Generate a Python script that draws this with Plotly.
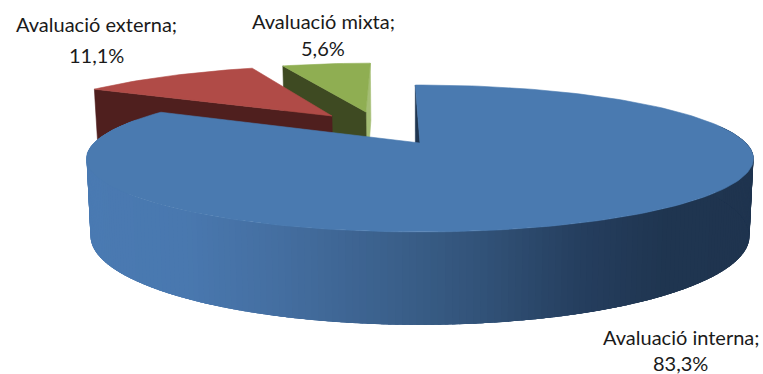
import math
import plotly.graph_objects as go

categories = ["Avaluació interna", "Avaluació externa", "Avaluació mixta"]
values = [83.3, 11.1, 5.6]
top_colors = ["#4a7ab0", "#b04b47", "#8fae52"]
wall_colors = ["#1f3550", "#4f1f1e", "#3e4a22"]
sliver_color = "#a4bd74"
explode = [(0.0, 0.0), (-0.294, 0.419), (-0.183, 0.487)]
radius_scale = [1.0, 1.025, 1.01]

label_lines = [
    [(681, 337), (680, 363)],
    [(96, 24), (96, 55)],
    [(323, 21), (323, 48)],
]
font_size = 20

CX, CY, RX, RY, P, H, Q = 420.0, 143.0, 326.0, 70.2, 0.211, 75.0, 0.012
START = -1.0

side_stops = [
    (88, (74, 122, 178)), (200, (73, 120, 175)), (300, (68, 110, 160)),
    (420, (58, 95, 138)), (500, (50, 83, 121)), (600, (37, 62, 94)),
    (680, (31, 53, 80)), (760, (31, 52, 79)),
]


def project(X, Y, Z=0.0):
    d = (1 + P * Y) * (1 + Q * Z)
    return CX + RX * X / d, CY - RY * Y / d + H * Z / d


def rim(theta, off, Z=0.0, scale=1.0):
    t = math.radians(theta)
    return project(scale * math.sin(t) + off[0], scale * math.cos(t) + off[1], Z)


def side_color(x):
    for (x0, c0), (x1, c1) in zip(side_stops, side_stops[1:]):
        if x <= x1:
            f = max(0.0, (x - x0) / (x1 - x0))
            return "rgb(%d,%d,%d)" % tuple(round(a + (b - a) * f) for a, b in zip(c0, c1))
    return "rgb(31,52,79)"


def poly(points, color, width=0.6):
    xs = [p[0] for p in points] + [points[0][0]]
    ys = [p[1] for p in points] + [points[0][1]]
    return go.Scatter(x=xs, y=ys, mode="lines", fill="toself", fillcolor=color,
                      line=dict(color=color, width=width), hoverinfo="skip", showlegend=False)


def top_face(a0, a1, off, scale):
    n = max(4, int((a1 - a0) / 1.5))
    pts = [project(off[0], off[1])]
    pts += [rim(a0 + (a1 - a0) * i / n, off, 0.0, scale) for i in range(n + 1)]
    return pts


def radial_wall(theta, off, scale):
    return [project(off[0], off[1]), rim(theta, off, 0.0, scale), rim(theta, off, 1, scale),
            project(off[0], off[1], 1)]


# slice angles (clockwise from the top) follow from the values
total = sum(values)
edges = [START]
for v in values:
    edges.append(edges[-1] + 360 * v / total)

fig = go.Figure()

# green slice (furthest back)
a0, a1 = edges[2], edges[3]
fig.add_trace(poly(radial_wall(a1, explode[2], radius_scale[2]), sliver_color))
fig.add_trace(poly(radial_wall(a0, explode[2], radius_scale[2]), wall_colors[2]))
fig.add_trace(poly(top_face(a0, a1, explode[2], radius_scale[2]), top_colors[2]))

# red slice
a0, a1 = edges[1], edges[2]
fig.add_trace(poly(radial_wall(a0, explode[1], radius_scale[1]), wall_colors[1]))
fig.add_trace(poly(top_face(a0, a1, explode[1], radius_scale[1]), top_colors[1]))

# blue slice: inner wall, outer wall strips painted right to left with overlap, top
a0, a1 = edges[0], edges[1]
fig.add_trace(poly(radial_wall(a0, explode[0], 1.0), wall_colors[0]))
strip = 1.0
theta = 288.0
while theta > 75.0:
    t0, t1 = theta - strip, theta + 2.5
    if t0 < 180.0:
        pass
    p0, p1 = rim(t0, explode[0]), rim(t1, explode[0])
    q1, q0 = rim(t1, explode[0], 1), rim(t0, explode[0], 1)
    fig.add_trace(poly([p0, p1, q1, q0], side_color(p0[0]), width=0))
    theta -= strip
fig.add_trace(poly(top_face(a0, a1, explode[0], 1.0), top_colors[0]))

annotations = []
for name, v, lines in zip(categories, values, label_lines):
    texts = [name + ";", f"{v:.1f}".replace(".", ",") + "%"]
    for text, (x, y) in zip(texts, lines):
        annotations.append(dict(x=x, y=y, xref="x", yref="y", text=text, showarrow=False,
                                xanchor="center", yanchor="middle", borderpad=0,
                                font=dict(family="Lato", size=font_size, color="#1a1a1a")))

fig.update_layout(
    width=763, height=374, margin=dict(l=0, r=0, t=0, b=0),
    paper_bgcolor="white", plot_bgcolor="white", showlegend=False,
    xaxis=dict(range=[0, 763], visible=False, fixedrange=True),
    yaxis=dict(range=[374, 0], visible=False, fixedrange=True),
    annotations=annotations,
)
fig.write_html("out.html", config={"displayModeBar": False},
               post_script="document.body.style.margin='0';")
